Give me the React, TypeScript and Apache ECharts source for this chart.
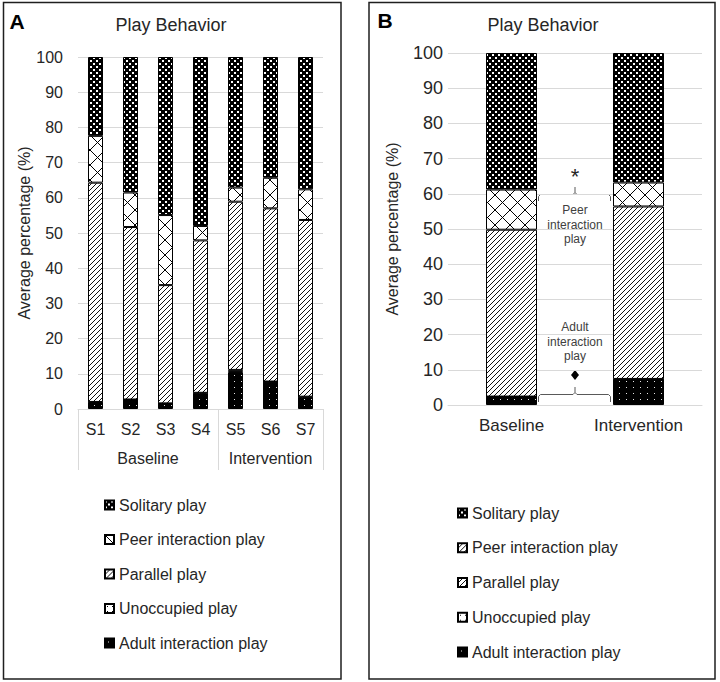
import React, { useEffect, useRef } from 'react';
import * as echarts from 'echarts';

// ---------- Data ----------
const categoriesA = ['S1', 'S2', 'S3', 'S4', 'S5', 'S6', 'S7'];
const phaseOfA = ['Baseline', 'Baseline', 'Baseline', 'Baseline', 'Intervention', 'Intervention', 'Intervention'];

const adultA = [2.0, 2.7, 1.6, 4.6, 10.5, 7.8, 3.5];
const unoccupiedA = [0, 0, 0, 0, 0.6, 0, 0];
const parallelA = [62.3, 49.0, 33.6, 43.3, 47.8, 49.2, 50.2];
const peerA = [13.3, 9.8, 19.9, 4.1, 4.0, 8.7, 8.7];
const solitaryA = [22.4, 38.5, 44.9, 48.0, 37.1, 34.3, 37.6];

const categoriesB = ['Baseline', 'Intervention'];
const adultB = [2.4, 7.4];
const unoccupiedB = [0, 0];
const parallelB = [47.4, 49.0];
const peerB = [11.4, 6.8];
const solitaryB = [38.8, 36.8];

const seriesNames = ['Adult interaction play', 'Unoccupied play', 'Parallel play', 'Peer interaction play', 'Solitary play'];
const legendOrder = ['Solitary play', 'Peer interaction play', 'Parallel play', 'Unoccupied play', 'Adult interaction play'];

const FONT = '"Liberation Sans", Arial, Helvetica, sans-serif';
const TXT = '#262626';
const GRID = '#d9d9d9';

function tile(w: number, h: number, bg: string, draw: (ctx: CanvasRenderingContext2D) => void) {
  const c = document.createElement('canvas');
  c.width = w;
  c.height = h;
  const ctx = c.getContext('2d') as CanvasRenderingContext2D;
  ctx.fillStyle = bg;
  ctx.fillRect(0, 0, w, h);
  draw(ctx);
  return { image: c.toDataURL(), repeat: 'repeat', imageWidth: w, imageHeight: h } as any;
}

export default function App() {
  const ref = useRef<HTMLDivElement>(null);

  useEffect(() => {
    if (!ref.current) return;
    const chart = echarts.init(ref.current, null, { renderer: 'svg' });

    const solitaryPat = tile(6, 6, '#000', (ctx) => {
      ctx.fillStyle = '#fff';
      ctx.fillRect(0, 0, 2, 2);
      ctx.fillRect(3, 3, 2, 2);
    });
    const peerPat = tile(15, 15, '#fff', (ctx) => {
      ctx.strokeStyle = '#000';
      ctx.lineWidth = 1;
      ctx.beginPath();
      ctx.moveTo(-1, -1); ctx.lineTo(16, 16);
      ctx.moveTo(16, -1); ctx.lineTo(-1, 16);
      ctx.stroke();
    });
    const parallelPat = tile(5, 5, '#fff', (ctx) => {
      ctx.strokeStyle = '#111';
      ctx.lineWidth = 1;
      ctx.beginPath();
      [0, 5, 10].forEach((c) => { ctx.moveTo(c + 1, -1); ctx.lineTo(c - 6, 6); });
      ctx.stroke();
    });
    const unoccPat = tile(5, 5, '#fff', (ctx) => {
      ctx.fillStyle = '#000';
      ctx.fillRect(2, 2, 1, 1);
    });
    const adultPat = tile(7, 6, '#000', (ctx) => {
      ctx.fillStyle = 'rgba(255,255,255,0.9)';
      ctx.fillRect(3, 3, 1, 1);
    });
    const patterns = [adultPat, unoccPat, parallelPat, peerPat, solitaryPat];
    const dataA = [adultA, unoccupiedA, parallelA, peerA, solitaryA];
    const dataB = [adultB, unoccupiedB, parallelB, peerB, solitaryB];

    // phase groups for panel A
    const phases: string[] = [];
    const phaseIdx: number[][] = [];
    phaseOfA.forEach((p, i) => {
      let k = phases.indexOf(p);
      if (k < 0) { phases.push(p); phaseIdx.push([]); k = phases.length - 1; }
      phaseIdx[k].push(i);
    });
    const phaseCenters = phaseIdx.map((arr) => (arr[0] + arr[arr.length - 1]) / 2);
    const phaseBounds = [-0.5, ...phaseIdx.map((arr) => arr[arr.length - 1] + 0.5)];

    const series: any[] = [];
    seriesNames.forEach((name, si) => {
      series.push({
        type: 'bar', name, stack: 'A', xAxisIndex: 0, yAxisIndex: 0,
        barWidth: 15, data: dataA[si],
        itemStyle: { color: patterns[si], borderColor: '#000', borderWidth: 1 },
        emphasis: { disabled: true },
      });
    });
    seriesNames.forEach((name, si) => {
      series.push({
        type: 'bar', name, stack: 'B', xAxisIndex: 2, yAxisIndex: 1,
        barWidth: 51, data: dataB[si],
        itemStyle: { color: patterns[si], borderColor: '#000', borderWidth: 1 },
        emphasis: { disabled: true },
      });
    });

    const legendCommon = {
      orient: 'vertical', itemWidth: 9, itemHeight: 9, itemGap: 18.5, icon: 'rect',
      selectedMode: false, padding: 0,
      textStyle: { fontSize: 16, lineHeight: 16, color: TXT, fontFamily: FONT },
    };

    const annColor = '#595959';
    const annText = (x: number, y: number, t: string) => ({
      type: 'text', x, y,
      style: { text: t, fontSize: 12, lineHeight: 14.5, fontFamily: FONT, fill: '#404040', align: 'center', verticalAlign: 'middle' },
    });

    const option: any = {
      animation: false,
      grid: [
        { left: 78, right: 397, top: 57, bottom: 273 },
        { left: 448, right: 18, top: 53, bottom: 277 },
      ],
      xAxis: [
        {
          type: 'category', gridIndex: 0, data: categoriesA,
          axisLine: { show: true, lineStyle: { color: GRID } },
          axisTick: { show: false },
          axisLabel: { fontSize: 16, color: TXT, fontFamily: FONT, margin: 12 },
        },
        {
          type: 'value', gridIndex: 0, position: 'bottom', min: -0.5, max: categoriesA.length - 0.5,
          axisLine: { show: false }, splitLine: { show: false },
          axisTick: { show: true, customValues: phaseBounds, length: 61, lineStyle: { color: GRID } },
          axisLabel: {
            show: true, customValues: phaseCenters, margin: 41, fontSize: 16, color: TXT, fontFamily: FONT,
            formatter: (v: number) => {
              const k = phaseCenters.findIndex((c) => Math.abs(c - v) < 1e-6);
              return k >= 0 ? phases[k] : '';
            },
          },
        },
        {
          type: 'category', gridIndex: 1, data: categoriesB,
          axisLine: { show: true, lineStyle: { color: GRID } },
          axisTick: { show: false },
          axisLabel: { fontSize: 17, color: TXT, fontFamily: FONT, margin: 12 },
        },
      ],
      yAxis: [
        {
          type: 'value', gridIndex: 0, min: 0, max: 100, interval: 10,
          axisLine: { show: false }, axisTick: { show: false },
          splitLine: { lineStyle: { color: GRID } },
          axisLabel: { fontSize: 16, color: TXT, fontFamily: FONT, margin: 15 },
          name: 'Average percentage (%)', nameLocation: 'middle', nameGap: 46,
          nameTextStyle: { fontSize: 16, color: TXT, fontFamily: FONT },
        },
        {
          type: 'value', gridIndex: 1, min: 0, max: 100, interval: 10,
          axisLine: { show: false }, axisTick: { show: false },
          splitLine: { lineStyle: { color: GRID } },
          axisLabel: { fontSize: 18, color: TXT, fontFamily: FONT, margin: 5 },
          name: 'Average percentage (%)', nameLocation: 'middle', nameGap: 48,
          nameTextStyle: { fontSize: 16, color: TXT, fontFamily: FONT },
        },
      ],
      legend: [
        { ...legendCommon, left: 104, top: 497, data: legendOrder },
        {
          ...legendCommon, left: 457, top: 505, itemGap: 18.75,
          data: legendOrder.map((n) => (n === 'Peer interaction play' ? { name: n, itemStyle: { color: parallelPat } } : { name: n })),
        },
      ],
      graphic: [
        { type: 'rect', shape: { x: 3.5, y: 2.5, width: 337.5, height: 676.5 }, style: { fill: 'none', stroke: '#1f1f1f', lineWidth: 1.5 }, silent: true },
        { type: 'rect', shape: { x: 369, y: 2.5, width: 346, height: 676.5 }, style: { fill: 'none', stroke: '#1f1f1f', lineWidth: 1.5 }, silent: true },
        { type: 'text', x: 17, y: 21, style: { text: 'A', fontSize: 21, fontWeight: 'bold', fontFamily: FONT, fill: '#000', align: 'center', verticalAlign: 'middle' } },
        { type: 'text', x: 385, y: 20, style: { text: 'B', fontSize: 21, fontWeight: 'bold', fontFamily: FONT, fill: '#000', align: 'center', verticalAlign: 'middle' } },
        { type: 'text', x: 171, y: 25, style: { text: 'Play Behavior', fontSize: 18, fontFamily: FONT, fill: TXT, align: 'center', verticalAlign: 'middle' } },
        { type: 'text', x: 543, y: 25, style: { text: 'Play Behavior', fontSize: 18, fontFamily: FONT, fill: TXT, align: 'center', verticalAlign: 'middle' } },
        // top bracket
        { type: 'polyline', shape: { points: [[538.5, 201], [538.5, 196.5], [540.5, 194.5], [573, 194.5], [575, 192.5], [575, 187]] }, style: { stroke: annColor, lineWidth: 1, fill: 'none' } },
        { type: 'polyline', shape: { points: [[575, 192.5], [577, 194.5], [608.5, 194.5], [610.5, 196.5], [610.5, 201]] }, style: { stroke: annColor, lineWidth: 1, fill: 'none' } },
        { type: 'text', x: 575, y: 176, style: { text: '*', fontSize: 22, fontFamily: FONT, fill: '#262626', align: 'center', verticalAlign: 'middle' } },
        annText(575, 210, 'Peer'),
        annText(575, 224.5, 'interaction'),
        annText(575, 239, 'play'),
        // bottom bracket
        { type: 'polyline', shape: { points: [[538.5, 402], [538.5, 396.5], [540.5, 394.5], [573, 394.5], [575, 392.5], [575, 387]] }, style: { stroke: annColor, lineWidth: 1, fill: 'none' } },
        { type: 'polyline', shape: { points: [[575, 392.5], [577, 394.5], [608.5, 394.5], [610.5, 396.5], [610.5, 402]] }, style: { stroke: annColor, lineWidth: 1, fill: 'none' } },
        { type: 'polygon', shape: { points: [[575, 370], [579, 375], [575, 380], [571, 375]] }, style: { fill: '#000' } },
        annText(575, 327, 'Adult'),
        annText(575, 341.5, 'interaction'),
        annText(575, 356, 'play'),
      ],
      series,
    };

    chart.setOption(option);
    return () => chart.dispose();
  }, []);

  return (
    <div
      ref={ref}
      style={{ position: 'absolute', left: 0, top: 0, width: 720, height: 682, background: '#fff' }}
    />
  );
}
